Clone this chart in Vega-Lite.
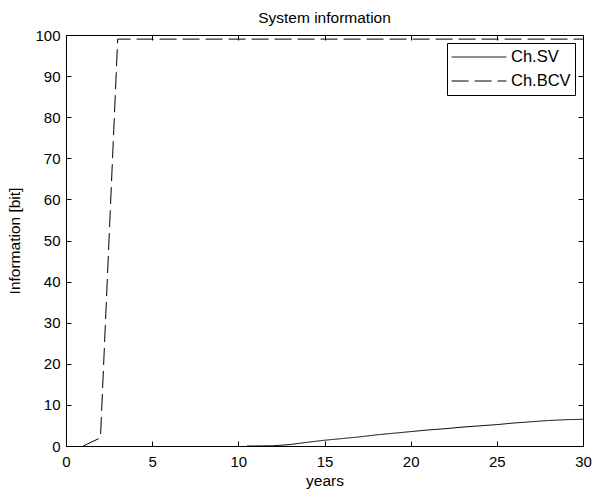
{
  "$schema": "https://vega.github.io/schema/vega-lite/v6.json",
  "width": 517,
  "height": 411,
  "autosize": {"type": "none"},
  "padding": {"left": 66, "top": 35, "right": 9, "bottom": 43},
  "background": "white",
  "title": {"text": "System information", "fontSize": 15.5, "fontWeight": "normal", "font": "Liberation Sans", "color": "#000000", "offset": 2},
  "config": {
    "view": {"stroke": "black", "strokeWidth": 1},
    "axis": {"grid": false, "domainColor": "black", "tickColor": "black", "tickSize": -5, "labelFlush": false, "labelFont": "Liberation Sans", "labelFontSize": 15, "labelColor": "#000000", "titleFont": "Liberation Sans", "titleFontSize": 15.5, "titleFontWeight": "normal", "titleColor": "#000000", "labelPadding": 13}
  },
  "data": {"values": [
    {"series": "Ch.BCV", "x": 1, "y": 0},
    {"series": "Ch.BCV", "x": 2, "y": 2},
    {"series": "Ch.BCV", "x": 3, "y": 99},
    {"series": "Ch.BCV", "x": 5, "y": 99},
    {"series": "Ch.BCV", "x": 10, "y": 99},
    {"series": "Ch.BCV", "x": 15, "y": 99},
    {"series": "Ch.BCV", "x": 20, "y": 99},
    {"series": "Ch.BCV", "x": 25, "y": 99},
    {"series": "Ch.BCV", "x": 30, "y": 99},
    {"series": "Ch.SV", "x": 10.5, "y": 0},
    {"series": "Ch.SV", "x": 11, "y": 0},
    {"series": "Ch.SV", "x": 12, "y": 0.05},
    {"series": "Ch.SV", "x": 13, "y": 0.35},
    {"series": "Ch.SV", "x": 14, "y": 0.9},
    {"series": "Ch.SV", "x": 15, "y": 1.4},
    {"series": "Ch.SV", "x": 16, "y": 1.8},
    {"series": "Ch.SV", "x": 17, "y": 2.2},
    {"series": "Ch.SV", "x": 18, "y": 2.7},
    {"series": "Ch.SV", "x": 19, "y": 3.1},
    {"series": "Ch.SV", "x": 20, "y": 3.5},
    {"series": "Ch.SV", "x": 21, "y": 3.9},
    {"series": "Ch.SV", "x": 22, "y": 4.2},
    {"series": "Ch.SV", "x": 23, "y": 4.6},
    {"series": "Ch.SV", "x": 24, "y": 4.9},
    {"series": "Ch.SV", "x": 25, "y": 5.2},
    {"series": "Ch.SV", "x": 26, "y": 5.6},
    {"series": "Ch.SV", "x": 27, "y": 5.9},
    {"series": "Ch.SV", "x": 28, "y": 6.2},
    {"series": "Ch.SV", "x": 29, "y": 6.4},
    {"series": "Ch.SV", "x": 30, "y": 6.5}
  ]},
  "layer": [
    {
      "mark": {"type": "line", "color": "black", "strokeWidth": 1},
      "encoding": {
        "x": {"field": "x", "type": "quantitative", "scale": {"domain": [0, 30], "nice": false}, "axis": {"values": [0, 5, 10, 15, 20, 25, 30], "title": "years", "titlePadding": 4}},
        "y": {"field": "y", "type": "quantitative", "scale": {"domain": [0, 100], "nice": false}, "axis": {"values": [0, 10, 20, 30, 40, 50, 60, 70, 80, 90, 100], "title": "Information [bit]", "labelPadding": 11, "titlePadding": 12}},
        "strokeDash": {
          "field": "series", "type": "nominal",
          "scale": {"domain": ["Ch.SV", "Ch.BCV"], "range": [[1, 0], [17, 6]]},
          "legend": {
            "title": null, "orient": "none", "legendX": 381, "legendY": 8,
            "strokeColor": "black", "fillColor": "white", "padding": 4,
            "symbolType": "stroke", "symbolSize": 3000, "symbolStrokeColor": "black", "symbolStrokeWidth": 1,
            "clipHeight": 20, "labelFont": "Liberation Sans", "labelFontSize": 16.5, "labelColor": "#000000", "labelOffset": 4, "rowPadding": 4
          }
        },
        "detail": {"field": "series"}
      }
    },
    {
      "mark": {"type": "line", "strokeOpacity": 0},
      "encoding": {
        "x": {"field": "x", "type": "quantitative", "scale": {"domain": [0, 30], "nice": false}, "axis": {"orient": "top", "values": [0, 5, 10, 15, 20, 25, 30], "labels": false, "title": null}},
        "y": {"field": "y", "type": "quantitative", "scale": {"domain": [0, 100], "nice": false}, "axis": {"orient": "right", "values": [0, 10, 20, 30, 40, 50, 60, 70, 80, 90, 100], "labels": false, "title": null}},
        "detail": {"field": "series"}
      }
    }
  ],
  "resolve": {"axis": {"x": "independent", "y": "independent"}}
}
